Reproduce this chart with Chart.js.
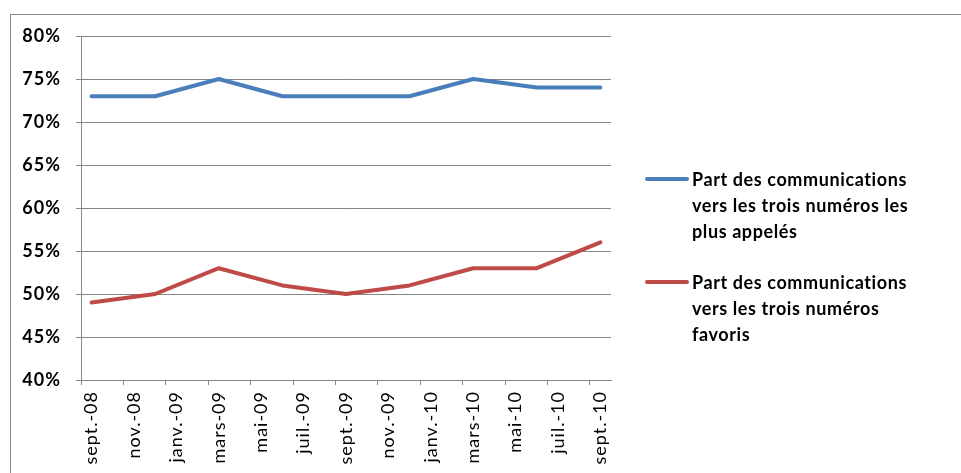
<!DOCTYPE html>
<html>
<head>
<meta charset="utf-8">
<script src="https://cdn.jsdelivr.net/npm/chart.js@4/dist/chart.umd.min.js"></script>
<style>
  html, body { margin: 0; padding: 0; background: #fff; }
  #wrap { position: relative; width: 961px; height: 473px; overflow: hidden; }
  #frame { position: absolute; left: 10px; top: 14px; width: 1000px; height: 500px; border: 1px solid #868686; }
  #chart { position: absolute; left: 0; top: 0; }
  #legend { position: absolute; left: 645px; top: 166px; font: bold 18px Lato, sans-serif; letter-spacing: 0.6px; color: #000; }
  .item { display: flex; align-items: flex-start; line-height: 26px; margin-bottom: 25px; }
  .swatch { width: 44px; height: 4px; border-radius: 2px; margin-top: 11px; margin-right: 3px; flex: none; }
</style>
</head>
<body>
<div id="wrap">
  <div id="frame"></div>
  <canvas id="chart" width="961" height="473"></canvas>
  <div id="legend"></div>
</div>
<script>
// mois de l'axe (un par catégorie, étiquette affichée un mois sur deux)
const months = [
  "sept.-08", "oct.-08", "nov.-08", "déc.-08", "janv.-09", "févr.-09", "mars-09",
  "avr.-09", "mai-09", "juin-09", "juil.-09", "août-09", "sept.-09", "oct.-09",
  "nov.-09", "déc.-09", "janv.-10", "févr.-10", "mars-10", "avr.-10", "mai-10",
  "juin-10", "juil.-10", "août-10", "sept.-10"
];
// relevés trimestriels
const quarters = [
  "sept.-08", "déc.-08", "mars-09", "juin-09", "sept.-09",
  "déc.-09", "mars-10", "juin-10", "sept.-10"
];
const plusAppeles = [73, 73, 75, 73, 73, 73, 75, 74, 74];
const favoris = [49, 50, 53, 51, 50, 51, 53, 53, 56];

const seriesNames = [
  ["Part des communications", "vers les trois numéros les", "plus appelés"],
  ["Part des communications", "vers les trois numéros", "favoris"]
];
const colors = ["#4a7ebb", "#be4b48"];
const gridColor = "#868686";

const toPoints = (vals) => quarters.map((q, i) => ({ x: q, y: vals[i] }));

// un peu d'espacement entre les lettres, comme dans l'original
const spacing = {
  id: "spacing",
  beforeLayout: (chart) => { chart.ctx.letterSpacing = "1px"; },
  beforeDraw: (chart) => { chart.ctx.letterSpacing = "1px"; }
};

new Chart(document.getElementById("chart"), {
  type: "line",
  data: {
    labels: months,
    datasets: [
      { label: seriesNames[0].join(" "), data: toPoints(plusAppeles), borderColor: colors[0] },
      { label: seriesNames[1].join(" "), data: toPoints(favoris), borderColor: colors[1] }
    ]
  },
  plugins: [spacing],
  options: {
    responsive: false,
    animation: false,
    layout: { padding: { top: 36, right: 350, left: 0, bottom: 0 } },
    elements: {
      line: { borderWidth: 4, tension: 0, borderCapStyle: "round", borderJoinStyle: "round" },
      point: { radius: 0 }
    },
    plugins: { legend: { display: false }, tooltip: { enabled: false } },
    scales: {
      x: {
        type: "category",
        offset: true,
        grid: {
          offset: true,
          drawOnChartArea: false,
          drawTicks: true,
          tickLength: 5,
          color: (ctx) => (ctx.index % 2 === 0 && ctx.index < months.length ? gridColor : "rgba(0,0,0,0)")
        },
        border: { color: gridColor },
        ticks: {
          autoSkip: false,
          maxRotation: 90,
          minRotation: 90,
          padding: 6,
          color: "#000",
          font: { family: "Lato", size: 18 },
          callback: (v, i) => (i % 2 === 0 ? months[i] : "")
        },
        afterFit: (s) => { s.height = 93; }
      },
      y: {
        min: 40,
        max: 80,
        grid: { color: gridColor, tickLength: 5 },
        border: { color: gridColor },
        ticks: {
          stepSize: 5,
          padding: 15,
          color: "#000",
          font: { family: "Lato", size: 18, weight: "bold" },
          callback: (v) => v + "%"
        },
        afterFit: (s) => { s.width = 81; }
      }
    }
  }
});

// légende à droite, texte sur plusieurs lignes
const legend = document.getElementById("legend");
seriesNames.forEach((lines, i) => {
  const item = document.createElement("div");
  item.className = "item";
  const sw = document.createElement("div");
  sw.className = "swatch";
  sw.style.background = colors[i];
  const txt = document.createElement("div");
  txt.innerHTML = lines.join("<br>");
  item.appendChild(sw);
  item.appendChild(txt);
  legend.appendChild(item);
});
</script>
</body>
</html>
